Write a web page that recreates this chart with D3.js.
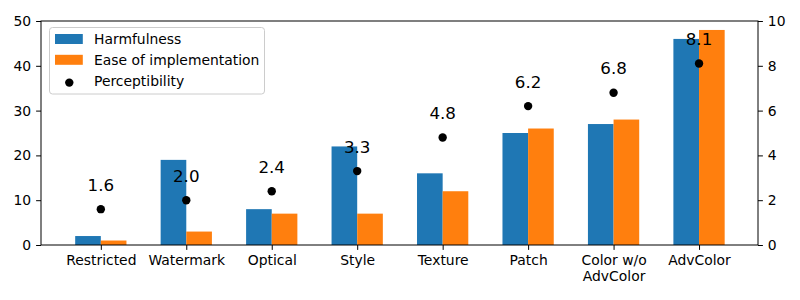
<!DOCTYPE html>
<html>
<head>
    <title>attack comparison</title>
    <script type="text/javascript" src="https://cdn.jsdelivr.net/npm/d3@7/dist/d3.min.js"></script>
    <style type="text/css">
        body { margin: 0; }
        svg text { font-family: "DejaVu Sans", sans-serif; }
        .axis path, .axis line { stroke: #000; stroke-width: 1px; }
        .axis text { font-size: 13.9px; fill: #000; }
    </style>
</head>
<body>
    <svg id="chart" width="800" height="300"></svg>
</body>

<script type="text/javascript">

    let categories = ["Restricted", "Watermark", "Optical", "Style", "Texture", "Patch", "Color w/o\nAdvColor", "AdvColor"];
    let harmfulness = [2, 19, 8, 22, 16, 25, 27, 46];
    let ease = [1, 3, 7, 7, 12, 26, 28, 48];
    let perceptibility = [1.6, 2.0, 2.4, 3.3, 4.8, 6.2, 6.8, 8.1];
    let leftTicks = [0, 10, 20, 30, 40, 50];
    let rightTicks = [0, 2, 4, 6, 8, 10];

    let plotLeft = 41, plotRight = 758, plotTop = 21, plotBottom = 245;
    let barW = 0.3;

    let svg = d3.select("#chart");

    let x = d3.scaleLinear().domain([-0.70, 7.69]).range([plotLeft, plotRight]);
    let y = d3.scaleLinear().domain([0, 50]).range([plotBottom, plotTop]);
    let y2 = d3.scaleLinear().domain([0, 10]).range([plotBottom, plotTop]);

    // bars
    svg.append("g").selectAll("rect")
        .data(harmfulness)
        .enter().append("rect")
        .attr("x", function(d, i) { return x(i - barW); })
        .attr("width", function(d, i) { return x(i) - x(i - barW); })
        .attr("y", function(d) { return y(d); })
        .attr("height", function(d) { return y(0) - y(d); })
        .attr("fill", "#1f77b4");

    svg.append("g").selectAll("rect")
        .data(ease)
        .enter().append("rect")
        .attr("x", function(d, i) { return x(i); })
        .attr("width", function(d, i) { return x(i + barW) - x(i); })
        .attr("y", function(d) { return y(d); })
        .attr("height", function(d) { return y(0) - y(d); })
        .attr("fill", "#ff7f0e");

    // perceptibility dots + labels
    svg.append("g").selectAll("circle")
        .data(perceptibility)
        .enter().append("circle")
        .attr("cx", function(d, i) { return x(i); })
        .attr("cy", function(d) { return y2(d); })
        .attr("r", 4.2)
        .attr("fill", "#000");

    svg.append("g").selectAll("text")
        .data(perceptibility)
        .enter().append("text")
        .attr("x", function(d, i) { return x(i); })
        .attr("y", function(d) { return y2(d) - 18.5; })
        .attr("text-anchor", "middle")
        .attr("font-size", "16.7px")
        .text(function(d) { return d.toFixed(1); });

    // axes
    let xAxis = svg.append("g")
        .attr("class", "axis")
        .attr("transform", "translate(0," + plotBottom + ")")
        .call(d3.axisBottom(x).tickValues(d3.range(categories.length))
            .tickFormat(function(i) { return categories[i]; })
            .tickSize(4.9).tickPadding(4.9));
    xAxis.select(".domain").remove();
    xAxis.selectAll(".tick text").each(function(d) {
        let t = d3.select(this);
        let lines = categories[d].split("\n");
        t.text(null);
        lines.forEach(function(s, k) {
            t.append("tspan").attr("x", 0).attr("dy", k == 0 ? "0.71em" : "1.16em").text(s);
        });
    });

    let yAxis = svg.append("g")
        .attr("class", "axis")
        .attr("transform", "translate(" + plotLeft + ",0)")
        .call(d3.axisLeft(y).tickValues(leftTicks).tickSize(4.9).tickPadding(4.9));
    yAxis.select(".domain").remove();

    let yAxis2 = svg.append("g")
        .attr("class", "axis")
        .attr("transform", "translate(" + plotRight + ",0)")
        .call(d3.axisRight(y2).tickValues(rightTicks).tickSize(4.9).tickPadding(4.9));
    yAxis2.select(".domain").remove();

    // frame
    svg.append("rect")
        .attr("x", plotLeft).attr("y", plotTop)
        .attr("width", plotRight - plotLeft).attr("height", plotBottom - plotTop)
        .attr("fill", "none").attr("stroke", "#000").attr("stroke-width", 1);

    // legend
    let legend = svg.append("g").attr("transform", "translate(49.5,27.5)");
    legend.append("rect")
        .attr("width", 215).attr("height", 66.5)
        .attr("rx", 3)
        .attr("fill", "#fff").attr("fill-opacity", 0.8)
        .attr("stroke", "#ccc");

    let legendItems = [
        { name: "Harmfulness", color: "#1f77b4", type: "bar" },
        { name: "Ease of implementation", color: "#ff7f0e", type: "bar" },
        { name: "Perceptibility", color: "#000", type: "dot" }
    ];
    legendItems.forEach(function(item, k) {
        let cy = 11.5 + k * 20.8;
        if (item.type == "bar") {
            legend.append("rect").attr("x", 5.5).attr("y", cy - 5).attr("width", 27.8).attr("height", 10).attr("fill", item.color);
        } else {
            legend.append("circle").attr("cx", 19.8).attr("cy", cy + 2).attr("r", 4.2).attr("fill", item.color);
        }
        legend.append("text")
            .attr("x", 44.5).attr("y", cy)
            .attr("dy", "0.36em")
            .attr("font-size", "13.9px")
            .text(item.name);
    });
</script>

</html>
